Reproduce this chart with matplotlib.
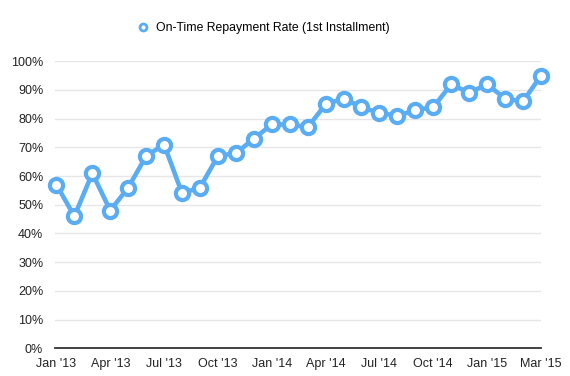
import matplotlib
matplotlib.use("Agg")
from matplotlib import pyplot as plt
from matplotlib.ticker import FuncFormatter

# taxa de pagamento em dia (1a parcela), uma por mes
valores = [57, 46, 61, 48, 56, 67, 71, 54, 56, 67, 68, 73, 78, 78,
           77, 85, 87, 84, 82, 81, 83, 84, 92, 89, 92, 87, 86, 95]
meses = list(range(len(valores)))

# rotulos do eixo x
pos_rotulos = [0, 3, 6, 9, 12, 15, 18, 21, 24, 27]
rotulos = ["Jan '13", "Apr '13", "Jul '13", "Oct '13", "Jan '14",
           "Apr '14", "Jul '14", "Oct '14", "Jan '15", "Mar '15"]

serie = "On-Time Repayment Rate (1st Installment)"
azul = "#5aacf3"

plt.rcParams['font.family'] = ['Liberation Sans', 'DejaVu Sans']

fig = plt.figure(figsize=(5.7, 3.76), dpi=100)
ax = fig.add_axes([0.0965, 0.0737, 0.8525, 0.7633])

ax.plot(meses, valores, color=azul, linewidth=3.3, marker='o',
        markersize=9.5, markerfacecolor='white', markeredgecolor=azul,
        markeredgewidth=3.0, clip_on=False, zorder=3, label=serie)

ax.set_ylim(0, 100)
ax.set_xlim(-0.08, 27)
ax.set_yticks(range(0, 101, 10))
ax.yaxis.set_major_formatter(FuncFormatter(lambda v, p: "%d%%" % v))
ax.set_xticks(pos_rotulos)
ax.set_xticklabels(rotulos)

ax.grid(axis='y', color='#e6e6e6', linewidth=1.0)
ax.set_axisbelow(True)
for lado in ['left', 'right', 'top']:
    ax.spines[lado].set_visible(False)
ax.spines['bottom'].set_color('#333333')
ax.spines['bottom'].set_linewidth(1.3)

ax.tick_params(axis='both', length=0, labelsize=9, colors='#222222')
ax.tick_params(axis='y', pad=8.5)
ax.tick_params(axis='x', pad=7)

leg = fig.legend(loc='center', bbox_to_anchor=(0.463, 0.925), frameon=False,
                 fontsize=8.8, handlelength=0.8, handletextpad=0.6)
leg.legend_handles[0].set_markersize(5)
leg.legend_handles[0].set_markeredgewidth(2)
leg.legend_handles[0].set_linestyle('none')

fig.savefig("out.png", dpi=100)
